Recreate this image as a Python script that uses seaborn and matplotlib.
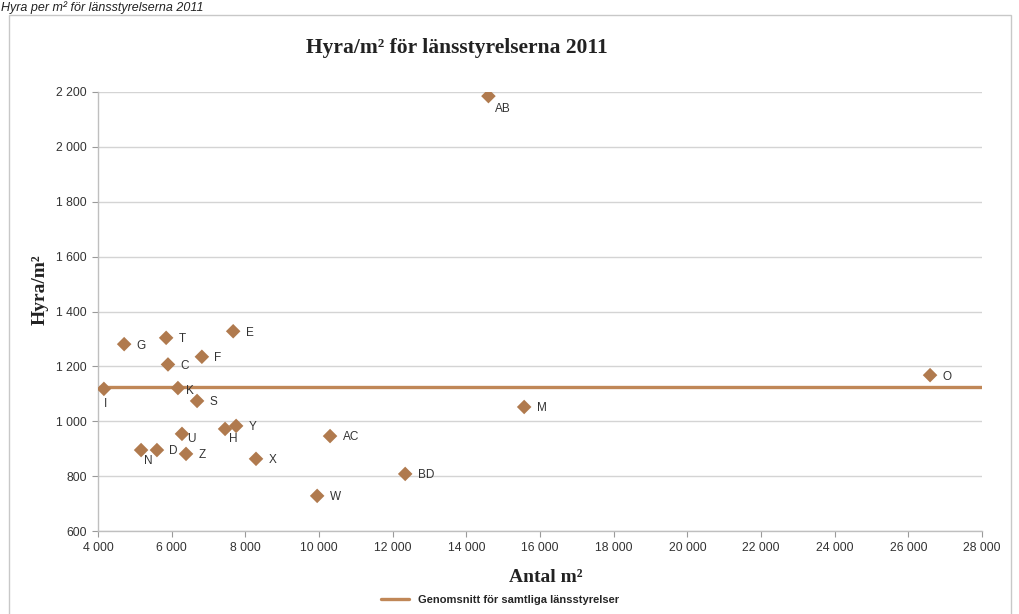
import matplotlib
matplotlib.use("Agg")
import matplotlib.pyplot as plt
import matplotlib.ticker as mticker
from matplotlib.lines import Line2D
from matplotlib.patches import Rectangle
import seaborn as sns
import pandas as pd

# ---- data ----
labels = ["AB", "E", "G", "T", "F", "C", "K", "I", "S", "Y", "H", "U", "D", "N",
          "Z", "X", "AC", "W", "BD", "M", "O"]
area_m2 = [14600, 7670, 4710, 5850, 6820, 5900, 6170, 4160, 6690, 7750, 7450,
           6280, 5600, 5170, 6390, 8290, 10300, 9950, 12340, 15570, 26590]
rent_per_m2 = [2185, 1328, 1281, 1304, 1235, 1207, 1121, 1118, 1074, 983, 972,
               954, 895, 895, 881, 863, 946, 728, 808, 1052, 1168]
mean_rent = [1125]
x_ticks = list(range(4000, 28001, 2000))
y_ticks = list(range(600, 2201, 200))

# label offsets in points (style only)
offsets = {"AB": (5, -9), "I": (0, -11), "H": (3, -7), "U": (4, -4), "N": (2, -8),
           "K": (6, -2)}
default_offset = (9, -1)

df = pd.DataFrame({"label": labels, "area": area_m2, "rent": rent_per_m2})

sns.set_theme(style="white")
plt.rcParams["font.family"] = ["Liberation Sans", "DejaVu Sans"]

fig = plt.figure(figsize=(10.19, 6.14), dpi=100)
ax = fig.add_axes([98/1019, 1 - 531/614, (982-98)/1019, (531-92)/614])

brown = "#b07a4e"
line_brown = "#c08757"

ax.axhline(mean_rent[0], color=line_brown, lw=2.4, zorder=2)
sns.scatterplot(data=df, x="area", y="rent", marker="D", s=55, color=brown,
                edgecolor="none", ax=ax, zorder=3, legend=False)

for lab, xv, yv in zip(labels, area_m2, rent_per_m2):
    dx, dy = offsets.get(lab, default_offset)
    ax.annotate(lab, (xv, yv), xytext=(dx, dy), textcoords="offset points",
                ha="left", va="center", fontsize=8.5, color="#333333")

ax.set_xlim(4000, 28000)
ax.set_ylim(600, 2200)
ax.set_xticks(x_ticks)
ax.set_yticks(y_ticks)
fmt = mticker.FuncFormatter(lambda v, p: f"{int(v):,}".replace(",", " "))
ax.xaxis.set_major_formatter(fmt)
ax.yaxis.set_major_formatter(fmt)
ax.tick_params(axis="both", labelsize=8.8, colors="#9a9a9a", labelcolor="#333333",
               length=4, width=0.8, direction="out", pad=4)
ax.tick_params(axis="x", bottom=True)
ax.tick_params(axis="y", left=True)
ax.grid(axis="y", color="#d4d4d4", lw=1)
ax.grid(axis="x", visible=False)
for s in ["top", "right"]:
    ax.spines[s].set_visible(False)
for s in ["left", "bottom"]:
    ax.spines[s].set_color("#bfbfbf")
    ax.spines[s].set_linewidth(1)

ax.set_xlabel("")
ax.set_ylabel("")
fig.text(546/1019, 1 - 577/614, "Antal m²", family="Liberation Serif",
         fontweight="bold", fontsize=14, ha="center", va="center", color="#222222")
fig.text(40/1019, 1 - 290/614, "Hyra/m²", family="Liberation Serif",
         fontweight="bold", fontsize=14, ha="center", va="center", rotation=90,
         color="#222222")
fig.text(457/1019, 1 - 48/614, "Hyra/m² för länsstyrelserna 2011",
         family="Liberation Serif", fontweight="bold", fontsize=15.5,
         ha="center", va="center", color="#222222")

# caption at top
fig.text(1/1019, 1 - 1/614, "Hyra per m² för länsstyrelserna 2011",
         style="italic", fontsize=9, ha="left", va="top", color="#222222")

# outer frame
fig.patches.append(Rectangle((9/1019, -0.05), (1011-9)/1019, 1.05 - 15/614,
                             transform=fig.transFigure, fill=False,
                             edgecolor="#c8c8c8", lw=1))

handle = Line2D([0], [0], color=line_brown, lw=2.4)
leg = fig.legend([handle], ["Genomsnitt för samtliga länsstyrelser"],
                 loc="center", bbox_to_anchor=(500/1019, 1 - 600/614),
                 frameon=False, handlelength=2.6,
                 prop={"weight": "bold", "size": 8})

fig.savefig("out.png", dpi=100)
